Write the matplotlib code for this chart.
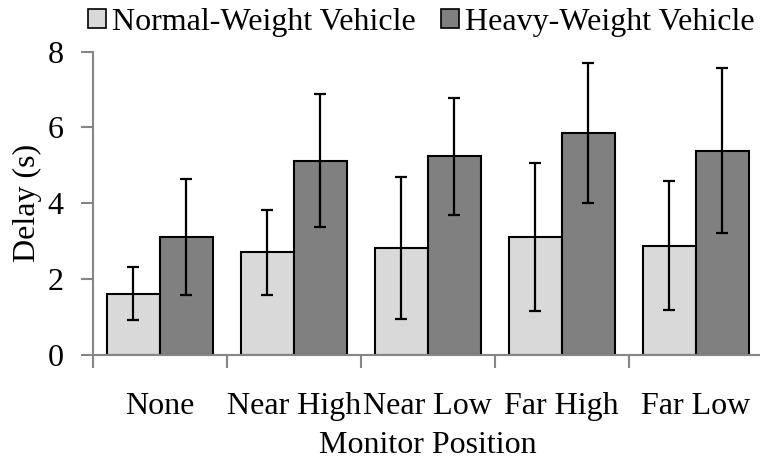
import matplotlib
matplotlib.use("Agg")
import matplotlib.pyplot as plt
import numpy as np
from matplotlib.patches import Patch

categories = ["None", "Near High", "Near Low", "Far High", "Far Low"]
normal_mean = [1.61, 2.70, 2.82, 3.11, 2.88]
normal_err = [0.70, 1.12, 1.87, 1.96, 1.71]
heavy_mean = [3.11, 5.12, 5.24, 5.85, 5.39]
heavy_err = [1.53, 1.76, 1.54, 1.85, 2.17]
series_names = ["Normal-Weight Vehicle", "Heavy-Weight Vehicle"]
yticks = [0, 2, 4, 6, 8]

plt.rcParams['font.family'] = ['Liberation Serif', 'DejaVu Serif']
plt.rcParams['font.size'] = 23

fig = plt.figure(figsize=(7.6, 4.61), dpi=100)
ax = fig.add_axes([92.7/760, 1-354.7/461, 670/760, (354.7-51.7)/461])

x = np.arange(len(categories))
w = 0.395
err_kw = dict(ecolor='black', elinewidth=1.6, capsize=4.3, capthick=1.6)
ax.bar(x - w/2, normal_mean, w, yerr=normal_err, color='#d9d9d9', edgecolor='black',
       linewidth=1.5, error_kw=err_kw, label=series_names[0], zorder=2)
ax.bar(x + w/2, heavy_mean, w, yerr=heavy_err, color='#808080', edgecolor='black',
       linewidth=1.5, error_kw=err_kw, label=series_names[1], zorder=2)

ax.set_xlim(-0.5, len(categories) - 0.5)
ax.set_ylim(0, 8)
ax.set_yticks(yticks)
ax.set_yticklabels([str(t) for t in yticks])
ax.set_xticks(x)
ax.set_xticklabels(categories)
ax.tick_params(axis='x', length=0, pad=27)
ax.set_xticks(np.arange(len(categories) + 1) - 0.5, minor=True)
ax.tick_params(axis='x', which='minor', length=9, width=1.5, color='#868686', direction='out')
ax.tick_params(axis='y', length=9, width=1.5, color='#868686', direction='out', pad=12)

for s in ['top', 'right']:
    ax.spines[s].set_visible(False)
for s in ['left', 'bottom']:
    ax.spines[s].set_color('#868686')
    ax.spines[s].set_linewidth(1.5)

ax.set_ylabel("Delay (s)", labelpad=4)
ax.set_xlabel("Monitor Position", labelpad=7)

handles = [Patch(facecolor='#d9d9d9', edgecolor='black', linewidth=1.2),
           Patch(facecolor='#808080', edgecolor='black', linewidth=1.2)]
fig.legend(handles, series_names, loc='upper center', bbox_to_anchor=(421.5/760, 1.01),
           ncol=2, frameon=False, handlelength=0.55, handleheight=0.55,
           handletextpad=0.2, columnspacing=0.8, borderaxespad=0)

fig.savefig("out.png", dpi=100)
